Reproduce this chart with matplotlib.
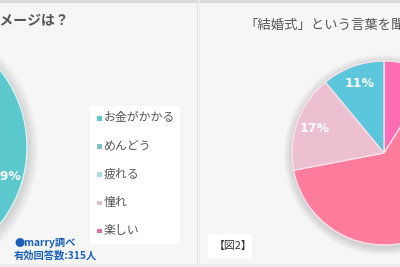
import numpy as np
import matplotlib.pyplot as plt
from matplotlib.patches import Rectangle, Circle

plt.rcParams['font.family'] = ['Noto Sans CJK JP', 'DejaVu Sans']

W, H = 400, 267

# left panel: image of the wedding
left_labels = ["お金がかかる", "めんどう", "疲れる", "憧れ", "楽しい"]
left_values = [59, 17, 12, 8, 4]
left_colors = ["#5ac8cc", "#7cc0cc", "#a8dde4", "#dcc0cc", "#e070a0"]
left_title = "結婚式のイメージは？"

# right panel
right_values = [9, 63, 17, 11]
right_colors = ["#ff6eb4", "#ff7c9c", "#ecc0d0", "#5bc6dc"]
right_title = "「結婚式」という言葉を聞いて思い浮かぶのは？"


def px_axes(fig, x0, y0, w, h):
    return fig.add_axes([x0 / W, 1 - (y0 + h) / H, w / W, h / H])


def draw_pie(ax, values, colors, edge, label_r=0.8, show=None):
    for k in range(6):
        ax.add_patch(Circle((0.0, -0.02), 1.0 + 0.015 * (k + 1), color="#000000",
                            alpha=0.025, lw=0, zorder=0))
    wedges, _ = ax.pie(values, colors=colors, startangle=90, counterclock=False,
                       radius=1.0, wedgeprops=dict(edgecolor=edge, linewidth=1.0))
    for i, w in enumerate(wedges):
        if show is not None and i not in show:
            continue
        ang = np.deg2rad((w.theta1 + w.theta2) / 2)
        ax.text(label_r * np.cos(ang), label_r * np.sin(ang), f"{values[i]}%",
                ha="center", va="center", color="white", fontsize=9,
                fontweight="bold", family=["DejaVu Sans"])
    ax.set_xlim(-1.1, 1.1)
    ax.set_ylim(-1.1, 1.1)
    ax.set_aspect("equal")
    ax.axis("off")


fig = plt.figure(figsize=(4, 2.67), dpi=100)
fig.patch.set_facecolor("#f6f6f6")

bg = fig.add_axes([0, 0, 1, 1])
bg.set_xlim(0, W)
bg.set_ylim(H, 0)
bg.axis("off")
bg.add_patch(Rectangle((0, 0), W, 2.5, color="#d9d9d9", lw=0))
bg.add_patch(Rectangle((196.5, 0), 1.2, H, color="#e2e2e2", lw=0))
bg.add_patch(Rectangle((199, 0), 1.0, H, color="#ececec", lw=0))
bg.add_patch(Rectangle((0, 264), W, 3, color="#ececec", lw=0))

# left pie (mostly outside the picture)
r1 = 123
axl = px_axes(fig, -96 - r1 * 1.1, 147 - r1 * 1.1, 2.2 * r1, 2.2 * r1)
draw_pie(axl, left_values, left_colors, "#d8f4f4", label_r=0.86, show=[0])

# right pie
r2 = 92
axr = px_axes(fig, 384 - r2 * 1.1, 153 - r2 * 1.1, 2.2 * r2, 2.2 * r2)
draw_pie(axr, right_values, right_colors, "#fbe0ea", label_r=0.8, show=[2, 3])

# texts and legend on top
top = fig.add_axes([0, 0, 1, 1])
top.set_xlim(0, W)
top.set_ylim(H, 0)
top.axis("off")
top.patch.set_alpha(0)

top.text(70, 21, left_title, ha="right", va="center", fontsize=10,
         fontweight="bold", color="#555555")
top.text(244, 25, right_title, ha="left", va="center", fontsize=9.6,
         color="#555555")

top.add_patch(Rectangle((90, 106), 90, 138, color="white", lw=0))
for i, (lab, c) in enumerate(zip(left_labels, left_colors)):
    y = 118 + i * 28.2
    top.add_patch(Rectangle((97, y - 2), 4.5, 4.5, color=c, lw=0))
    top.text(104, y, lab, ha="left", va="center", fontsize=8.6, color="#555555")

top.text(14, 243, "●marry調べ", ha="left", va="center", fontsize=7.4,
         fontweight="bold", color="#1a62b8")
top.text(14, 256, "有効回答数:315人", ha="left", va="center", fontsize=7.4,
         fontweight="bold", color="#1a62b8")

top.add_patch(Rectangle((208, 234), 44, 24, color="white", lw=0))
top.text(214, 246, "【図2】", ha="left", va="center", fontsize=7.8,
         color="#333333")

fig.savefig("out.png", dpi=100, facecolor=fig.get_facecolor())
